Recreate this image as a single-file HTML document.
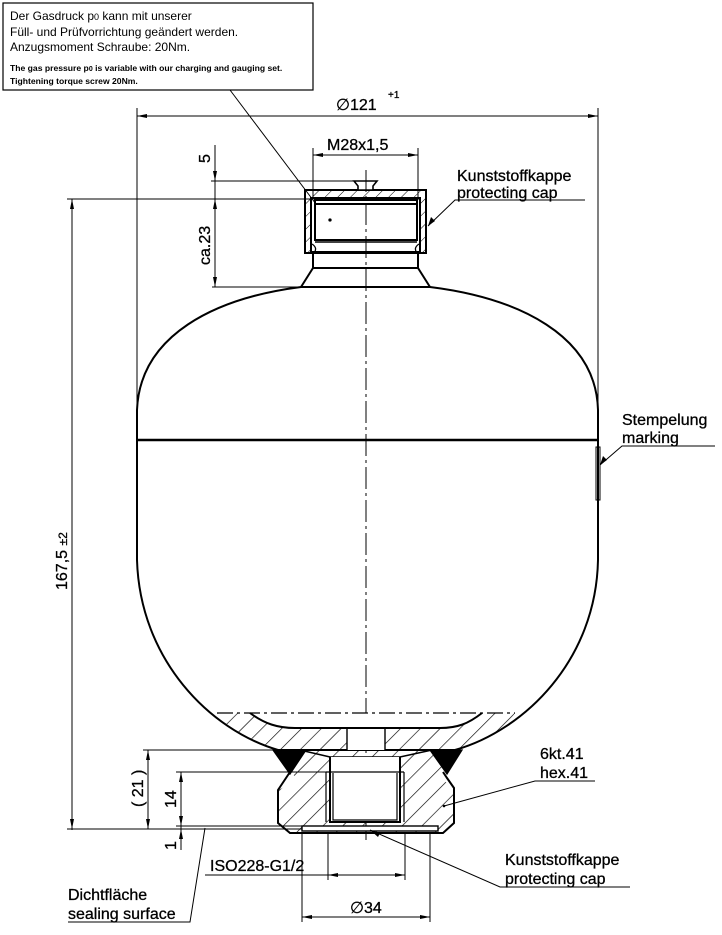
<!DOCTYPE html>
<html><head><meta charset="utf-8"><style>
html,body{margin:0;padding:0;background:#fff;}
svg{display:block;font-family:"Liberation Sans",Arial,sans-serif;}
</style></head><body>
<svg width="722" height="935" viewBox="0 0 722 935" xmlns="http://www.w3.org/2000/svg">
<defs>
<pattern id="h" patternUnits="userSpaceOnUse" width="14" height="14" patternTransform="rotate(45)">
<line x1="0" y1="0" x2="0" y2="14" stroke="#000" stroke-width="1.3"/>
</pattern>
<pattern id="hs" patternUnits="userSpaceOnUse" width="9" height="9" patternTransform="rotate(45)">
<line x1="0" y1="0" x2="0" y2="9" stroke="#000" stroke-width="1"/>
</pattern>
</defs>
<g fill="none" stroke="#000" stroke-width="1.3">
<rect x="3" y="3" width="310" height="87" stroke-width="1.2"/>
<line x1="230" y1="90" x2="322" y2="212" stroke-width="1"/>

<path d="M301,287 C215,298 140,335 137,410 L137,560 C140,660 210,730 278,750 L455,750 C525,730 596,660 598,560 L598,410 C596,335 518,298 430,287" stroke-width="2"/>
<line x1="137" y1="440" x2="598" y2="440" stroke-width="2.6"/>
<line x1="301" y1="287" x2="430" y2="287" stroke-width="2"/>
<path d="M301,287 L313,268 L418,268 L430,287" stroke-width="2"/>
<rect x="313" y="252" width="105" height="16" stroke-width="2"/>
<path d="M305,190 L426,190 L426,253 L305,253 Z M311,198 L420,198 L420,253 L311,253 Z" fill="url(#hs)" fill-rule="evenodd" stroke-width="2"/>
<rect x="315" y="200" width="102" height="40" fill="#fff" stroke-width="2"/>
<line x1="315" y1="204" x2="417" y2="204" stroke-width="2"/>
<path d="M315,242 L417,242" stroke-width="1.6"/>
<path d="M312,244 Q318,248 314,253 M419,244 Q413,248 417,253" stroke-width="1.3"/>
<path d="M354,181 L377,181 L373,186 L373,190 L358,190 L358,186 Z" fill="#fff" stroke-width="1.6"/>
<circle cx="330" cy="220" r="1" fill="#000"/>

<line x1="366" y1="170" x2="366" y2="840" stroke-width="1" stroke-dasharray="22,4,3,4"/>

<path d="M217,713 L515,713 C505,730 480,745 455,750 L278,750 C255,745 228,730 217,713 Z" fill="url(#h)" stroke="none"/>
<path d="M250,713 C265,724 278,728 295,728 L440,728 C457,728 468,724 482,713 Z" fill="#fff" stroke="none"/>
<rect x="347" y="728" width="38" height="22" fill="#fff" stroke="none"/>
<path d="M250,713 C265,724 278,728 295,728 L440,728 C457,728 468,724 482,713" stroke-width="2"/>
<path d="M347,728 L347,750 M385,728 L385,750" stroke-width="1.4"/>
<line x1="217" y1="713" x2="515" y2="713" stroke-width="1.2" stroke-dasharray="16,4,3,4"/>

<path d="M290,772 L299,780 L278,790 L278,823 L290,833 L443,833 L454,823 L454,788 L443,780 L447,772 L443,758 L430,750 L302,750 Z" fill="url(#h)" stroke="none"/>
<path d="M290,772 L286,778 L278,790 L278,823 L290,833 L443,833 L454,823 L454,788 L447,778 L443,772" stroke-width="2"/>
<path d="M300,750 L330,757 L400,757 L432,750" stroke-width="1.6"/>
<rect x="330" y="757" width="70" height="65" fill="#fff" stroke="none"/>
<path d="M330,757 L330,822 L400,822 L400,757" stroke-width="2"/>
<path d="M326,772 L326,822 M404,772 L404,822 M326,772 L404,772" stroke-width="1.2"/>
<path d="M333,773 L333,820 L397,820 L397,773" stroke-width="1.2"/>
<path d="M273,750 L306,750 L290,774 Z" fill="#000" stroke="#000"/>
<path d="M430,750 L462,750 L447,774 Z" fill="#000" stroke="#000"/>
<rect x="302" y="826" width="136" height="5" fill="#fff" stroke-width="1.4"/>

<g stroke-width="1">
<line x1="137" y1="108" x2="137" y2="410"/>
<line x1="598" y1="108" x2="598" y2="410"/>
<line x1="137" y1="116" x2="598" y2="116"/>
<line x1="313" y1="148" x2="313" y2="200"/>
<line x1="418" y1="148" x2="418" y2="200"/>
<line x1="313" y1="155" x2="418" y2="155"/>
<line x1="211" y1="181" x2="356" y2="181"/>
<line x1="67" y1="199" x2="311" y2="199"/>
<line x1="212" y1="287" x2="301" y2="287"/>
<line x1="215" y1="145" x2="215" y2="287"/>
<line x1="72" y1="199" x2="72" y2="830"/>
<line x1="67" y1="829" x2="302" y2="829"/>
<line x1="143" y1="750" x2="290" y2="750"/>
<line x1="176" y1="772" x2="330" y2="772"/>
<line x1="176" y1="826" x2="302" y2="826"/>
<line x1="148" y1="750" x2="148" y2="829"/>
<line x1="181" y1="772" x2="181" y2="850"/>
<line x1="328" y1="832" x2="328" y2="880"/>
<line x1="405" y1="832" x2="405" y2="880"/>
<line x1="205" y1="875" x2="405" y2="875"/>
<line x1="302" y1="832" x2="302" y2="922"/>
<line x1="430" y1="832" x2="430" y2="922"/>
<line x1="302" y1="917" x2="430" y2="917"/>
</g>
<g stroke-width="1">
<path d="M585,200 L455,200 L428,226"/>
<path d="M715,446 L622,446 L600,465"/>
<rect x="596" y="447" width="4" height="53"/>
<path d="M595,781 L535,781 L444,806"/>
<path d="M630,887 L500,887 L370,830"/>
<path d="M68,922 L190,922 L205,828"/>
</g>
</g>
<g fill="#000">
<path d="M137,116 l10,-2 l0,4z M598,116 l-10,-2 l0,4z"/>
<path d="M313,155 l10,-2 l0,4z M418,155 l-10,-2 l0,4z"/>
<path d="M215,181 l-2,-10 l4,0z M215,199 l-2,10 l4,0z M215,287 l-2,-10 l4,0z"/>
<path d="M72,199 l-2,10 l4,0z M72,829 l-2,-10 l4,0z"/>
<path d="M148,750 l-2,10 l4,0z M148,829 l-2,-10 l4,0z"/>
<path d="M181,772 l-2,10 l4,0z M181,826 l-2,-10 l4,0z M181,829 l-2,10 l4,0z"/>
<path d="M328,875 l10,-2 l0,4z M405,875 l-10,-2 l0,4z"/>
<path d="M302,917 l10,-2 l0,4z M430,917 l-10,-2 l0,4z"/>
<path d="M428,226 l3,-9 l4,4z M600,465 l3,-9 l4,4z M370,830 l8,7 l2,-4z"/>
<circle cx="444" cy="806" r="1.3"/>
</g>
<g fill="#000" font-size="12">
<text x="10" y="20">Der Gasdruck p<tspan font-size="9">0</tspan> kann mit unserer</text>
<text x="10" y="36">Füll- und Prüfvorrichtung geändert werden.</text>
<text x="10" y="51">Anzugsmoment Schraube: 20Nm.</text>
<text x="10" y="71" font-size="8.6" font-weight="bold">The gas pressure p<tspan font-size="7">0</tspan> is variable with our charging and gauging set.</text>
<text x="10" y="84" font-size="8.6" font-weight="bold">Tightening torque screw 20Nm.</text>
</g>
<g fill="#000" font-size="16" stroke="#000" stroke-width="0.3">
<text x="336" y="110">∅121</text><text x="388" y="98" font-size="10">+1</text>
<text x="327" y="150">M28x1,5</text>
<text x="457" y="181">Kunststoffkappe</text>
<text x="457" y="198">protecting cap</text>
<text x="622" y="425">Stempelung</text>
<text x="622" y="443">marking</text>
<text x="540" y="759">6kt.41</text>
<text x="540" y="778">hex.41</text>
<text x="505" y="865">Kunststoffkappe</text>
<text x="505" y="884">protecting cap</text>
<text x="68" y="900">Dichtfläche</text>
<text x="68" y="919">sealing surface</text>
<text x="210" y="871">ISO228-G1/2</text>
<text x="350" y="913">∅34</text>
<text transform="translate(210,163) rotate(-90)">5</text>
<text transform="translate(210,265) rotate(-90)">ca.23</text>
<text transform="translate(67,590) rotate(-90)">167,5 <tspan font-size="12">±2</tspan></text>
<text transform="translate(143,807) rotate(-90)">( 21 )</text>
<text transform="translate(176,808) rotate(-90)">14</text>
<text transform="translate(176,850) rotate(-90)">1</text>
</g>
</svg>
</body></html>
